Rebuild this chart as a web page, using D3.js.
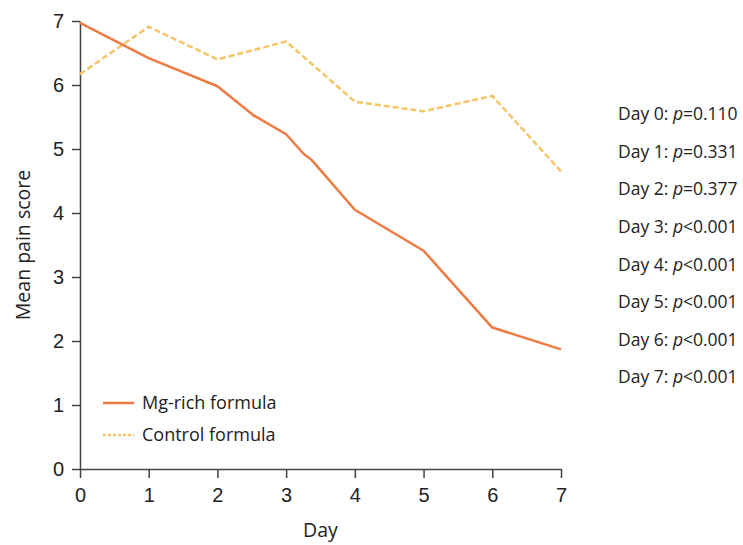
<!DOCTYPE html>
<html>
<head>
<meta charset="utf-8">
<script src="https://cdn.jsdelivr.net/npm/d3@7"></script>
<style>
  body { margin: 0; background: #fff; overflow: hidden; }
  svg { display: block; }
  .axis text { font-family: "Liberation Sans", Arial, sans-serif; font-size: 20px; fill: #222; }
  .axis path, .axis line { stroke: #444; stroke-width: 1.5; }
  .label { font-family: "Open Sans", "Noto Sans", sans-serif; font-size: 17px; fill: #222; }
</style>
</head>
<body>
<div id="chart"></div>
<script>
const width = 743, height = 545;
const margin = { top: 21, right: 182, bottom: 76, left: 80 };
const innerWidth = width - margin.left - margin.right;
const innerHeight = height - margin.top - margin.bottom;

// Mg-rich curve has a few intermediate points
const mgDays = [0, 1, 2, 2.52, 3, 3.25, 3.37, 4, 5, 6, 7];
const mgScores = [6.97, 6.42, 5.98, 5.53, 5.23, 4.93, 4.83, 4.05, 3.41, 2.21, 1.87];
const controlDays = [0, 1, 2, 3, 4, 5, 6, 7];
const controlScores = [6.17, 6.91, 6.40, 6.68, 5.74, 5.59, 5.83, 4.65];

const pLabels = ["Day 0:", "Day 1:", "Day 2:", "Day 3:", "Day 4:", "Day 5:", "Day 6:", "Day 7:"];
const pValues = ["=0.110", "=0.331", "=0.377", "<0.001", "<0.001", "<0.001", "<0.001", "<0.001"];

const seriesNames = ["Mg-rich formula", "Control formula"];
const mgColor = "#ef7b42", controlColor = "#f7c466";

const svg = d3.select("#chart")
  .append("svg")
  .attr("width", width)
  .attr("height", height)
  .attr("viewBox", `0 0 ${width} ${height}`);

const innerChart = svg.append("g")
  .attr("transform", `translate(${margin.left},${margin.top})`);

const xScale = d3.scaleLinear().domain([0, 7]).range([0, innerWidth]);
const yScale = d3.scaleLinear().domain([0, 7]).range([innerHeight, 0]);

innerChart.append("g")
  .attr("class", "axis")
  .attr("transform", `translate(0,${innerHeight})`)
  .call(d3.axisBottom(xScale).ticks(7).tickSize(9).tickPadding(10).tickSizeOuter(0));

innerChart.append("g")
  .attr("class", "axis")
  .call(d3.axisLeft(yScale).ticks(7).tickSize(8).tickPadding(8).tickSizeOuter(0));

const line = d3.line()
  .x(d => xScale(d[0]))
  .y(d => yScale(d[1]));

innerChart.append("path")
  .datum(controlDays.map((d, i) => [d, controlScores[i]]))
  .attr("fill", "none")
  .attr("stroke", controlColor)
  .attr("stroke-width", 2.5)
  .attr("stroke-dasharray", "6,3")
  .attr("d", line);

innerChart.append("path")
  .datum(mgDays.map((d, i) => [d, mgScores[i]]))
  .attr("fill", "none")
  .attr("stroke", mgColor)
  .attr("stroke-width", 2.5)
  .attr("stroke-linejoin", "round")
  .attr("d", line);

// legend
const legend = svg.append("g").attr("transform", "translate(103,403)");
seriesNames.forEach((name, i) => {
  const g = legend.append("g").attr("transform", `translate(0,${i * 32})`);
  g.append("line")
    .attr("x1", 0).attr("x2", 31)
    .attr("stroke", i === 0 ? mgColor : controlColor)
    .attr("stroke-width", 2.5)
    .attr("stroke-dasharray", i === 0 ? null : "3,2");
  g.append("text")
    .attr("class", "label")
    .attr("x", 39)
    .attr("dy", "0.35em")
    .style("font-size", "18px")
    .text(name);
});

// p-values
const pText = svg.append("g").attr("transform", "translate(618,114)");
pLabels.forEach((lab, i) => {
  const t = pText.append("text")
    .attr("class", "label")
    .attr("y", i * 37.6)
    .attr("dy", "0.35em")
    .style("font-size", "17.5px");
  t.append("tspan").text(lab + " ");
  t.append("tspan").style("font-style", "italic").text("p");
  t.append("tspan").text(pValues[i]);
});

svg.append("text")
  .attr("class", "label")
  .attr("text-anchor", "middle")
  .attr("x", margin.left + innerWidth / 2)
  .attr("y", 537)
  .style("font-size", "19.5px")
  .text("Day");

svg.append("text")
  .attr("class", "label")
  .attr("text-anchor", "middle")
  .attr("transform", `translate(30,${margin.top + innerHeight / 2}) rotate(-90)`)
  .style("font-size", "19.5px")
  .text("Mean pain score");
</script>
</body>
</html>
